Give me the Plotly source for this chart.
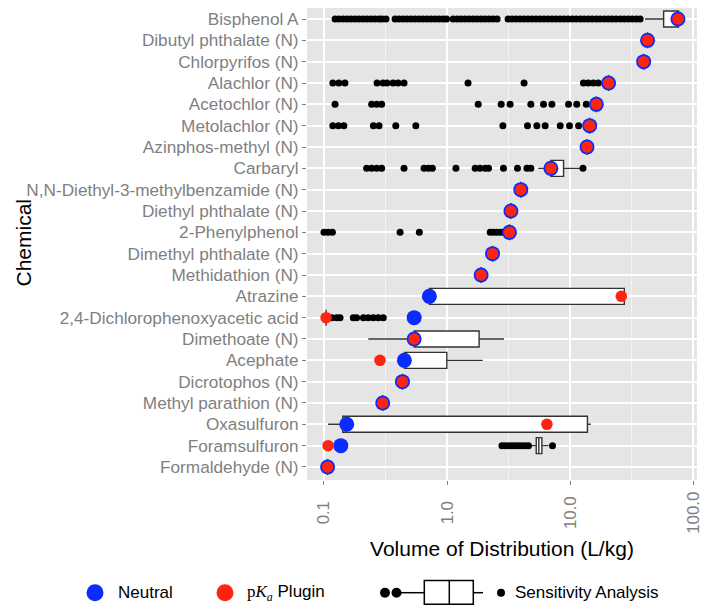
import plotly.graph_objects as go

chemicals = ["Bisphenol A", "Dibutyl phthalate (N)", "Chlorpyrifos (N)", "Alachlor (N)",
             "Acetochlor (N)", "Metolachlor (N)", "Azinphos-methyl (N)", "Carbaryl",
             "N,N-Diethyl-3-methylbenzamide (N)", "Diethyl phthalate (N)", "2-Phenylphenol",
             "Dimethyl phthalate (N)", "Methidathion (N)", "Atrazine",
             "2,4-Dichlorophenoxyacetic acid", "Dimethoate (N)", "Acephate", "Dicrotophos (N)",
             "Methyl parathion (N)", "Oxasulfuron", "Foramsulfuron", "Formaldehyde (N)"]

neutral = [75.0, 42.5, 39.5, 20.5, 16.3, 14.4, 13.7, 6.97, 3.97, 3.30, 3.21, 2.34, 1.89,
           0.718, 0.540, 0.540, 0.450, 0.434, 0.300, 0.153, 0.137, 0.107]
pka_plugin = [75.0, 42.5, 39.5, 20.5, 16.3, 14.4, 13.7, 6.97, 3.97, 3.30, 3.21, 2.34, 1.89,
              26.0, 0.104, 0.540, 0.285, 0.434, 0.300, 6.47, 0.108, 0.107]

# sensitivity analysis box statistics
box_q1 = [57.4, 42.5, 39.5, 20.5, 16.3, 14.4, 13.7, 6.97, 3.97, 3.30, 3.21, 2.34, 1.89,
          0.718, 0.104, 0.540, 0.450, 0.434, 0.300, 0.142, 5.30, 0.107]
box_median = [75.0, 42.5, 39.5, 20.5, 16.3, 14.4, 13.7, 7.00, 3.97, 3.30, 3.21, 2.34, 1.89,
              0.720, 0.104, 0.550, 0.460, 0.434, 0.300, 0.150, 5.56, 0.107]
box_q3 = [75.9, 42.5, 39.5, 20.5, 16.3, 14.4, 13.7, 8.83, 3.97, 3.30, 3.21, 2.34, 1.89,
          27.5, 0.104, 1.82, 0.995, 0.434, 0.300, 13.8, 5.89, 0.107]
box_low = [40.5, 42.5, 39.5, 20.5, 16.3, 14.4, 13.7, 5.50, 3.97, 3.30, 3.21, 2.34, 1.89,
           0.718, 0.104, 0.229, 0.450, 0.434, 0.300, 0.108, 4.75, 0.107]
box_high = [75.9, 42.5, 39.5, 20.5, 16.3, 14.4, 13.7, 12.3, 3.97, 3.30, 3.21, 2.34, 1.89,
            27.5, 0.104, 2.90, 1.95, 0.434, 0.300, 14.7, 6.67, 0.107]

# sensitivity analysis outliers
sens_bisphenol = [0.123, 0.132, 0.143, 0.154, 0.166, 0.179, 0.193, 0.208, 0.224, 0.241,
                  0.260, 0.280, 0.296, 0.319,
                  0.378, 0.407, 0.439, 0.473, 0.510, 0.550, 0.592, 0.638, 0.688, 0.742,
                  0.799, 0.861, 0.928, 0.990,
                  1.12, 1.21, 1.30, 1.40, 1.51, 1.63, 1.75, 1.89, 2.04, 2.19, 2.37, 2.55,
                  3.13, 3.37, 3.64, 3.92, 4.22, 4.55, 4.91, 5.29, 5.70, 6.14, 6.62, 7.14,
                  7.69, 8.29, 8.93, 9.63, 10.4, 11.2, 12.1, 13.0, 14.0, 15.1, 16.3, 17.5,
                  18.9, 20.4, 21.9, 23.6, 25.5, 27.5, 29.6, 31.9, 34.4, 37.0]
sens_alachlor = [0.118, 0.132, 0.148, 0.270, 0.302, 0.325, 0.364, 0.400, 0.447, 1.48, 4.22,
                 12.8, 14.0, 15.4, 16.9]
sens_acetochlor = [0.123, 0.244, 0.268, 0.294, 1.79, 2.75, 3.25, 4.79, 6.07, 7.10, 9.69,
                   11.3, 13.5]
sens_metolachlor = [0.118, 0.131, 0.145, 0.252, 0.280, 0.383, 0.557, 2.84, 4.50, 5.36, 6.26,
                    8.30, 9.87, 11.7]
sens_carbaryl = [0.222, 0.244, 0.268, 0.294, 0.447, 0.650, 0.705, 0.759, 1.18, 1.69, 1.85,
                 2.04, 2.17, 2.87, 3.73, 4.45, 4.79, 12.7]
sens_phenylphenol = [0.100, 0.108, 0.117, 0.415, 0.595, 2.24, 2.38, 2.54, 2.70, 2.87]
sens_24d = [0.116, 0.127, 0.135, 0.173, 0.184, 0.209, 0.229, 0.252, 0.276, 0.303]
sens_foramsulfuron = [2.79, 2.96, 3.16, 3.36, 3.57, 3.80, 4.05, 4.31, 4.58, 7.18]

outliers = {
    "Bisphenol A": sens_bisphenol,
    "Alachlor (N)": sens_alachlor,
    "Acetochlor (N)": sens_acetochlor,
    "Metolachlor (N)": sens_metolachlor,
    "Carbaryl": sens_carbaryl,
    "2-Phenylphenol": sens_phenylphenol,
    "2,4-Dichlorophenoxyacetic acid": sens_24d,
    "Foramsulfuron": sens_foramsulfuron,
}

x_ticks = [0.1, 1, 10, 100]
x_ticklabels = ["0.1\u00a0\u00a0", "1.0\u00a0\u00a0", "10.0\u00a0", "100.0"]
x_minor = [10 ** -0.5, 10 ** 0.5, 10 ** 1.5]

BLUE = "#0a2cff"
RED = "#ff2410"
GREY = "#7f7f7f"
FONT = "Liberation Sans, Arial, sans-serif"

out_x, out_y = [], []
for chem, vals in outliers.items():
    out_x.extend(vals)
    out_y.extend([chem] * len(vals))

fig = go.Figure()
fig.add_trace(go.Box(
    y=chemicals, q1=box_q1, median=box_median, q3=box_q3,
    lowerfence=box_low, upperfence=box_high, orientation="h",
    boxpoints=False, fillcolor="white", line=dict(color="#333333", width=1.4),
    whiskerwidth=0, width=0.75, hoverinfo="skip", showlegend=False))
fig.add_trace(go.Scatter(
    x=out_x, y=out_y, mode="markers",
    marker=dict(color="black", size=7, line=dict(width=0)), showlegend=False))
fig.add_trace(go.Scatter(
    x=neutral, y=chemicals, mode="markers",
    marker=dict(color=BLUE, size=15, line=dict(width=0)), showlegend=False))
fig.add_trace(go.Scatter(
    x=pka_plugin, y=chemicals, mode="markers",
    marker=dict(color=RED, size=11.5, line=dict(width=0)), showlegend=False))

# page body has an 8px margin; figure coordinates are screen coordinates minus OFF
OFF = 8
W, H = 708 - OFF, 611 - OFF
# plot area in screen pixels
SL, SR, ST, SB = 307, 697, 8, 480
PL, PR, PT, PB = SL - OFF, SR - OFF, ST - OFF, SB - OFF


def fx(x):
    return (x - SL) / (SR - SL)


def fy(y):
    return (SB - y) / (SB - ST)


shapes = []


def circle(cx, cy, r, color):
    shapes.append(dict(type="circle", xref="paper", yref="paper",
                       x0=fx(cx - r), x1=fx(cx + r), y0=fy(cy + r), y1=fy(cy - r),
                       fillcolor=color, line=dict(width=0)))


def seg(x0, y0, x1, y1):
    shapes.append(dict(type="line", xref="paper", yref="paper",
                       x0=fx(x0), x1=fx(x1), y0=fy(y0), y1=fy(y1),
                       line=dict(color="black", width=1.5)))


LY = 592.7
circle(95, LY, 8.5, BLUE)
circle(225, LY, 8.5, RED)
circle(385, LY, 5, "black")
circle(396.5, LY, 5, "black")
seg(396.5, LY, 424.3, LY)
shapes.append(dict(type="rect", xref="paper", yref="paper",
                   x0=fx(424.3), x1=fx(473.3), y0=fy(604.3), y1=fy(580.5),
                   fillcolor="white", line=dict(color="black", width=1.5)))
seg(449.3, 580.5, 449.3, 604.3)
seg(473.3, LY, 483, LY)
circle(501, LY, 4, "black")

annotations = []
for tx, txt in [(116, "Neutral"),
                (245, '<span style="font-family:Liberation Serif">p<i>K<sub>a</sub></i></span> Plugin'),
                (513, "Sensitivity Analysis")]:
    annotations.append(dict(x=fx(tx), y=fy(LY), xref="paper", yref="paper", text=txt,
                            showarrow=False, xanchor="left", yanchor="middle",
                            font=dict(size=17, color="black", family=FONT)))
annotations.append(dict(x=fx(9), y=fy(243), xref="paper", yref="paper", text="Chemical",
                        showarrow=False, xanchor="left", yanchor="middle", textangle=-90,
                        font=dict(size=21, color="black", family=FONT)))

fig.update_layout(
    width=W, height=H, autosize=False,
    margin=dict(l=PL, r=W - PR, t=PT, b=H - PB, pad=0),
    paper_bgcolor="white", plot_bgcolor="#e5e5e5",
    font=dict(family=FONT),
    shapes=shapes, annotations=annotations,
    xaxis=dict(type="log", range=[-1.138, 2.03], tickvals=x_ticks, ticktext=x_ticklabels,
               tickangle=-90, ticks="outside", ticklen=4, tickwidth=1, tickcolor=GREY,
               tickfont=dict(size=16.8, color=GREY), showgrid=True, gridcolor="white",
               gridwidth=1.8, zeroline=False, showline=False,
               minor=dict(tickmode="array", tickvals=x_minor, showgrid=True,
                          gridcolor="#f4f4f4", gridwidth=1.0, ticks=""),
               title=dict(text="Volume of Distribution (L/kg)",
                          font=dict(size=21, color="black"), standoff=8)),
    yaxis=dict(type="category", categoryorder="array", categoryarray=chemicals,
               range=[21.61, -0.516], autorange=False, ticks="outside", ticklen=4,
               tickwidth=1, tickcolor=GREY, tickfont=dict(size=17.2, color=GREY),
               showgrid=True, gridcolor="white", gridwidth=1.8, zeroline=False,
               showline=False),
)

fig.write_html("out.html")
